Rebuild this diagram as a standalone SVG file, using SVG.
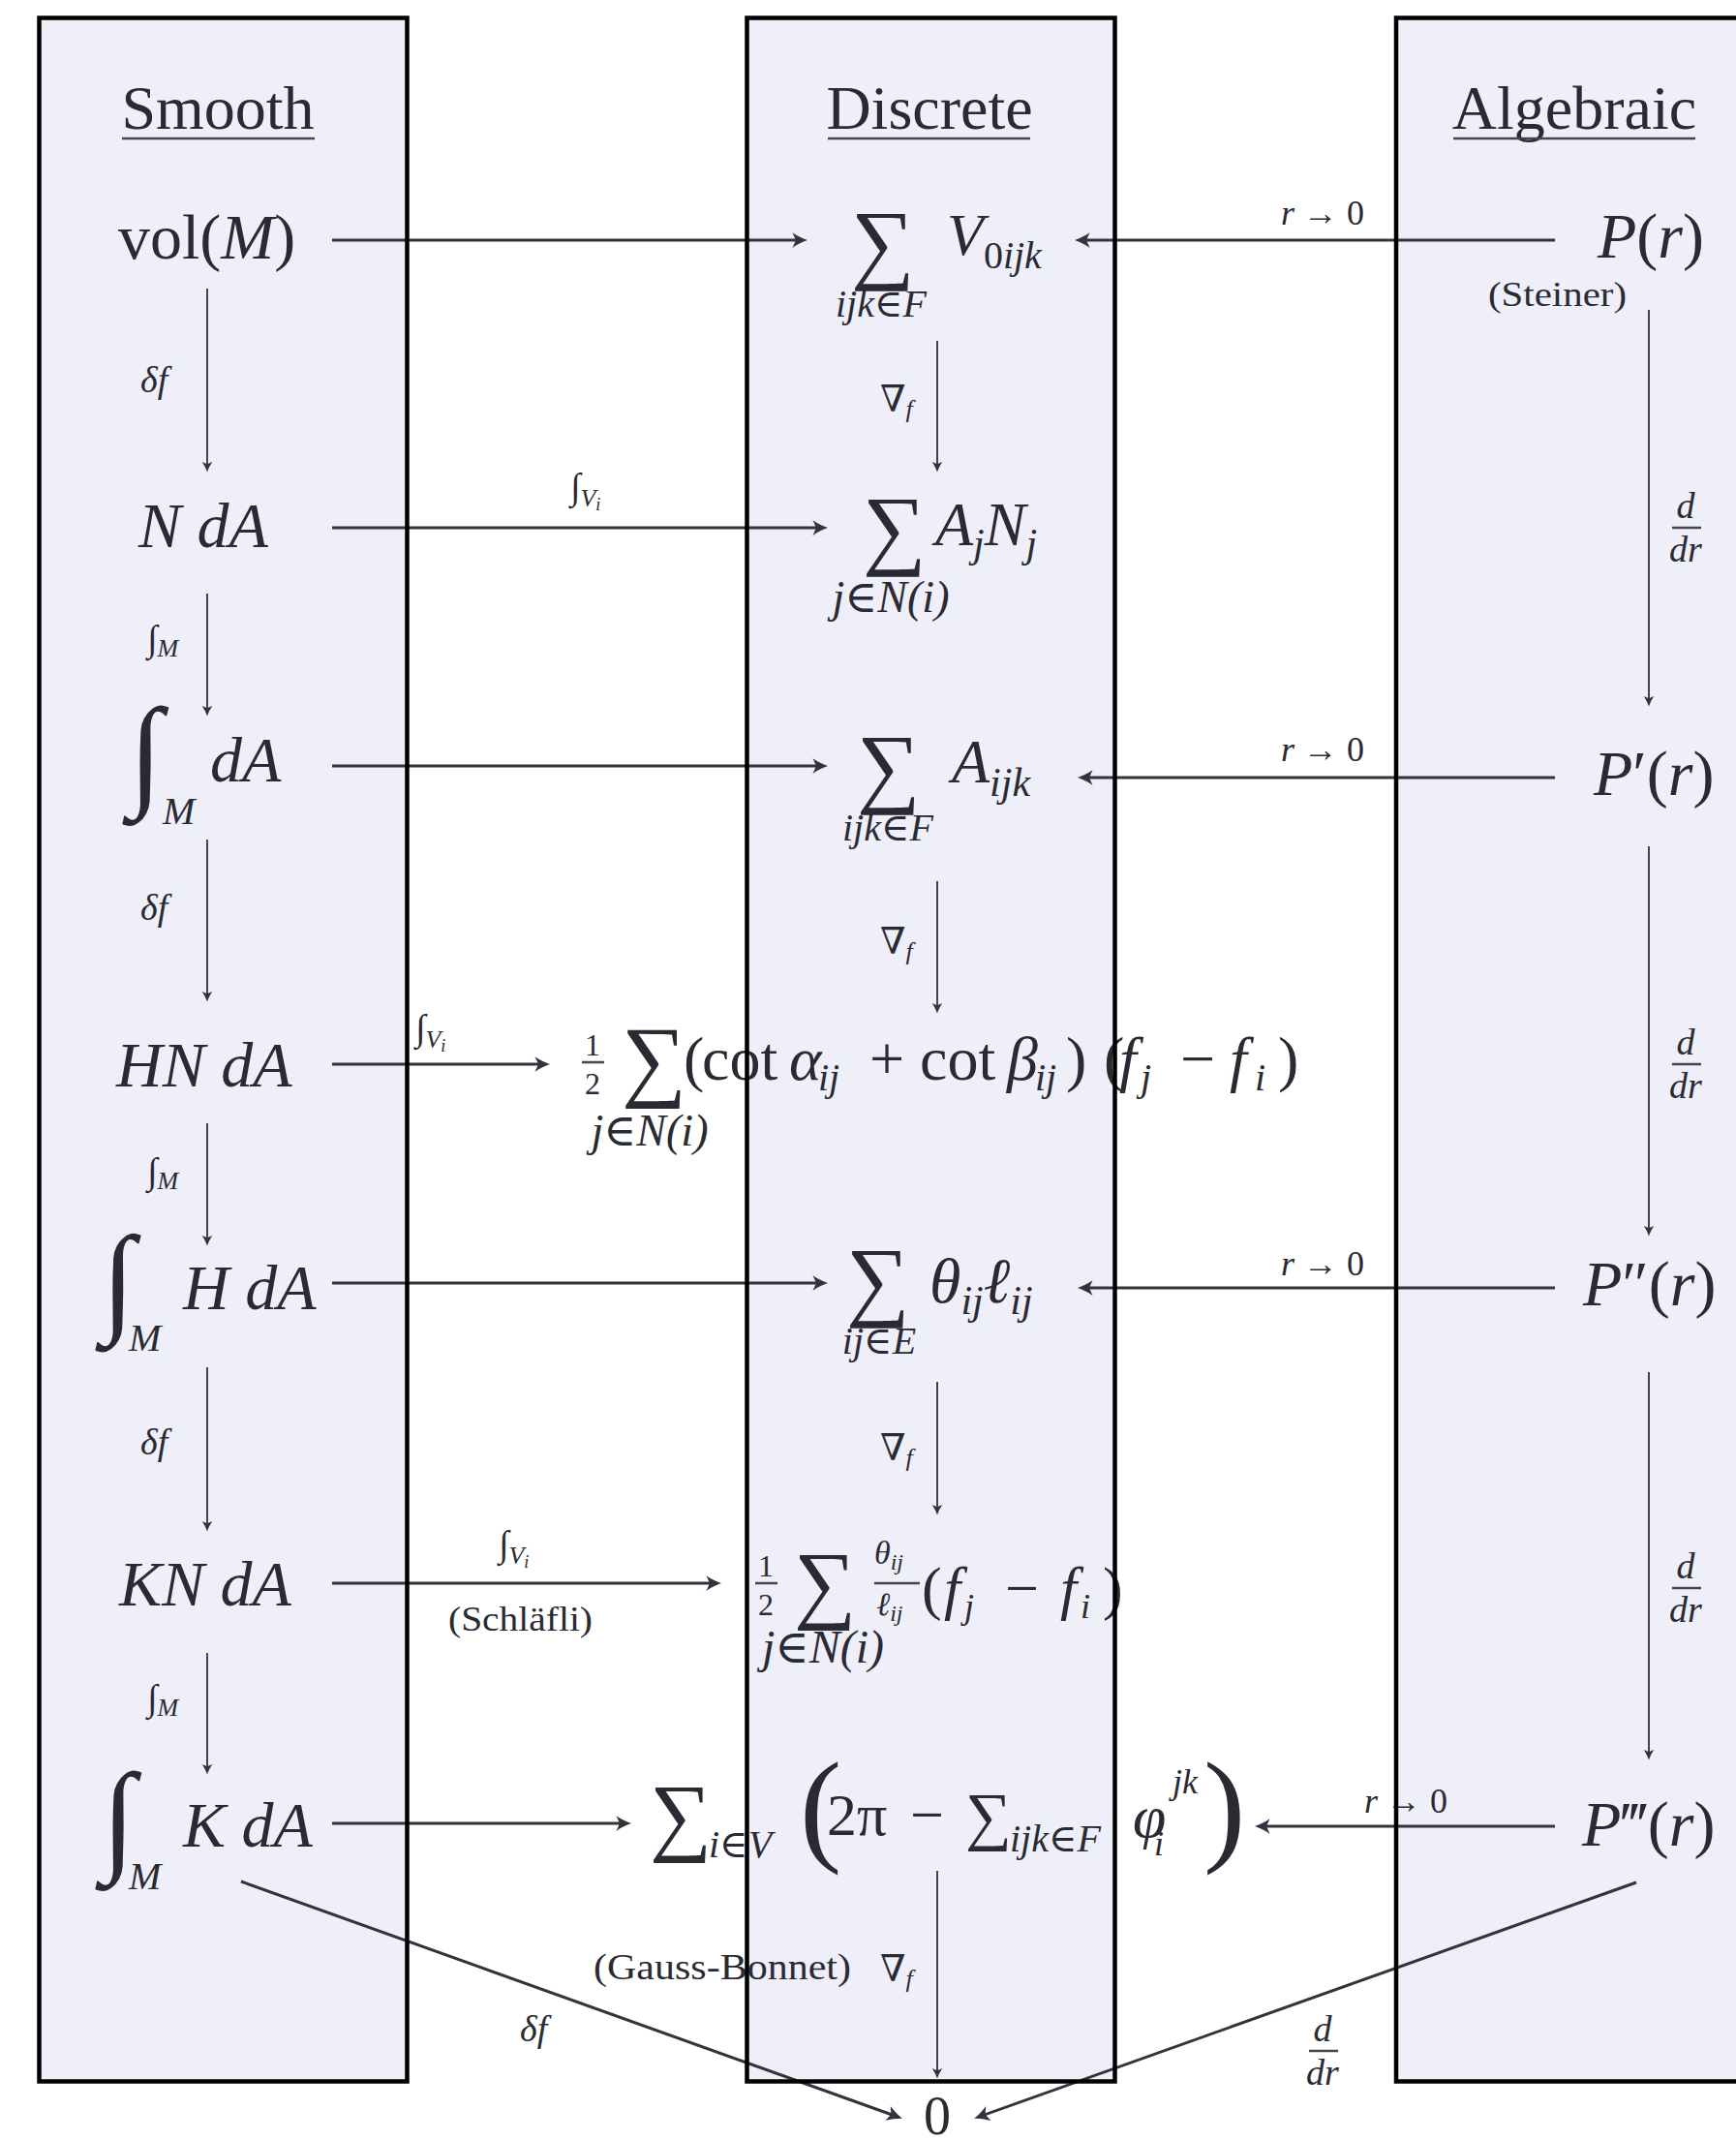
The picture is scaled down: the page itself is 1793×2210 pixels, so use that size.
<svg xmlns="http://www.w3.org/2000/svg" width="1793" height="2210" viewBox="0 0 1793 2210">
<defs>
<style>
.t{font-family:"Liberation Serif","DejaVu Serif",serif;fill:#2a2a33}
.it{font-style:italic}
.big{font-size:66px}
.mid{font-size:64px}
.sub{font-size:42px}
.lab{font-size:38px}
.sm{font-size:36px}
.colfill{fill:#efeffa;stroke:none}
.colbord{fill:none;stroke:#000;stroke-width:4.5}
.h{stroke:#33333d;stroke-width:3;fill:none}
.v{stroke:#44444f;stroke-width:2;fill:none}
.ul{stroke:#44444f;stroke-width:2.5}
</style>
<marker id="ah" viewBox="-12 -5 12 10" refX="-3" refY="0" markerWidth="7" markerHeight="6" orient="auto" markerUnits="strokeWidth">
<path d="M0,0 C-3,-1 -6,-2.5 -9,-4.5 L-7,0 L-9,4.5 C-6,2.5 -3,1 0,0 Z" fill="#33333d"/>
</marker>
</defs>
<rect width="1793" height="2210" fill="#fff"/>
<g id="columns-fill">
<rect class="colfill" x="40.5" y="18.5" width="380" height="2131"/>
<rect class="colfill" x="771.5" y="18.5" width="380" height="2131"/>
<rect class="colfill" x="1442" y="18.5" width="400" height="2131"/>
</g>
<g id="headers">
<text class="t" x="225" y="133" font-size="64" text-anchor="middle">Smooth</text>
<line class="ul" x1="126" y1="143" x2="325" y2="143"/>
<text class="t" x="960" y="133" font-size="64" text-anchor="middle">Discrete</text>
<line class="ul" x1="855" y1="143" x2="1064" y2="143"/>
<text class="t" x="1626" y="133" font-size="64" text-anchor="middle">Algebraic</text>
<line class="ul" x1="1501" y1="143" x2="1751" y2="143"/>
</g>
<g id="connectors">
<path class="h" marker-end="url(#ah)" d="M343,248 H829"/>
<path class="h" marker-end="url(#ah)" d="M1606,248 H1115"/>
<path class="h" marker-end="url(#ah)" d="M343,545 H850"/>
<path class="h" marker-end="url(#ah)" d="M343,791 H850"/>
<path class="h" marker-end="url(#ah)" d="M1606,803 H1118"/>
<path class="h" marker-end="url(#ah)" d="M343,1099 H563"/>
<path class="h" marker-end="url(#ah)" d="M343,1325 H850"/>
<path class="h" marker-end="url(#ah)" d="M1606,1330 H1118"/>
<path class="h" marker-end="url(#ah)" d="M343,1635 H740"/>
<path class="h" marker-end="url(#ah)" d="M343,1883 H647"/>
<path class="h" marker-end="url(#ah)" d="M1606,1886 H1301"/>
<path class="v" marker-end="url(#ah)" d="M214,298 V484"/>
<path class="v" marker-end="url(#ah)" d="M214,613 V736"/>
<path class="v" marker-end="url(#ah)" d="M214,867 V1031"/>
<path class="v" marker-end="url(#ah)" d="M214,1160 V1283"/>
<path class="v" marker-end="url(#ah)" d="M214,1412 V1578"/>
<path class="v" marker-end="url(#ah)" d="M214,1707 V1829"/>
<path class="v" marker-end="url(#ah)" d="M968,352 V484"/>
<path class="v" marker-end="url(#ah)" d="M968,910 V1043"/>
<path class="v" marker-end="url(#ah)" d="M968,1427 V1561"/>
<path class="v" marker-end="url(#ah)" d="M968,1932 V2143"/>
<path class="v" marker-end="url(#ah)" d="M1703,320 V726"/>
<path class="v" marker-end="url(#ah)" d="M1703,874 V1273"/>
<path class="v" marker-end="url(#ah)" d="M1703,1417 V1814"/>
<path class="h" marker-end="url(#ah)" d="M249,1943 L927,2186"/>
<path class="h" marker-end="url(#ah)" d="M1690,1944 L1011,2186"/>
</g>
<g id="edge-labels">
<text class="t it lab" x="145" y="405">δf</text>
<text class="t it lab" x="145" y="950">δf</text>
<text class="t it lab" x="145" y="1502">δf</text>
<text class="t lab" x="152" y="672">∫<tspan class="it" font-size="26" dy="6">M</tspan></text>
<text class="t lab" x="152" y="1222">∫<tspan class="it" font-size="26" dy="6">M</tspan></text>
<text class="t lab" x="152" y="1766">∫<tspan class="it" font-size="26" dy="6">M</tspan></text>
<text class="t lab" x="909" y="425">∇<tspan class="it" font-size="26" dy="6">f</tspan></text>
<text class="t lab" x="909" y="985">∇<tspan class="it" font-size="26" dy="6">f</tspan></text>
<text class="t lab" x="909" y="1508">∇<tspan class="it" font-size="26" dy="6">f</tspan></text>
<text class="t lab" x="909" y="2046">∇<tspan class="it" font-size="26" dy="6">f</tspan></text>
<text class="t" font-size="38" x="613" y="2044" textLength="266" lengthAdjust="spacingAndGlyphs">(Gauss-Bonnet)</text>
<text class="t it lab" x="1741" y="535" text-anchor="middle">d</text>
<line class="ul" x1="1727" y1="545" x2="1757" y2="545"/>
<text class="t it lab" x="1741" y="580" text-anchor="middle">dr</text>
<text class="t it lab" x="1741" y="1089" text-anchor="middle">d</text>
<line class="ul" x1="1727" y1="1099" x2="1757" y2="1099"/>
<text class="t it lab" x="1741" y="1134" text-anchor="middle">dr</text>
<text class="t it lab" x="1741" y="1630" text-anchor="middle">d</text>
<line class="ul" x1="1727" y1="1640" x2="1757" y2="1640"/>
<text class="t it lab" x="1741" y="1675" text-anchor="middle">dr</text>
<text class="t it lab" x="1366" y="2108" text-anchor="middle">d</text>
<line class="ul" x1="1352" y1="2118" x2="1382" y2="2118"/>
<text class="t it lab" x="1366" y="2153" text-anchor="middle">dr</text>
<text class="t it lab" x="537" y="2108">δf</text>
<text class="t sm" x="1323" y="232"><tspan class="it">r</tspan> → 0</text>
<text class="t sm" x="1323" y="786"><tspan class="it">r</tspan> → 0</text>
<text class="t sm" x="1323" y="1317"><tspan class="it">r</tspan> → 0</text>
<text class="t sm" x="1409" y="1872"><tspan class="it">r</tspan> → 0</text>
<text class="t" font-size="36" x="1537" y="316" textLength="143" lengthAdjust="spacingAndGlyphs">(Steiner)</text>
<text class="t lab" x="589" y="515">∫<tspan class="it" font-size="26" dy="8">V</tspan><tspan class="it" font-size="18" dy="4">i</tspan></text>
<text class="t lab" x="429" y="1074">∫<tspan class="it" font-size="26" dy="8">V</tspan><tspan class="it" font-size="18" dy="4">i</tspan></text>
<text class="t lab" x="515" y="1607">∫<tspan class="it" font-size="26" dy="8">V</tspan><tspan class="it" font-size="18" dy="4">i</tspan></text>
<text class="t" font-size="36" x="463" y="1684" textLength="149" lengthAdjust="spacingAndGlyphs">(Schläfli)</text>
</g>
<g id="node-volM"><text class="t big" x="122" y="267">vol(<tspan class="it">M</tspan>)</text></g>
<g id="node-NdA"><text class="t big it" x="143" y="565">N dA</text></g>
<g id="node-intdA"><text class="t" x="133" y="819" font-size="127">∫</text><text class="t big it" x="217" y="807">dA</text><text class="t it" font-size="40" x="168" y="851">M</text></g>
<g id="node-HNdA"><text class="t big it" x="120" y="1122">HN dA</text></g>
<g id="node-intHdA"><text class="t" x="105" y="1363" font-size="125">∫</text><text class="t big it" x="189" y="1352">H dA</text><text class="t it" font-size="40" x="133" y="1395">M</text></g>
<g id="node-KNdA"><text class="t big it" x="123" y="1658">KN dA</text></g>
<g id="node-intKdA"><text class="t" x="105" y="1919" font-size="127">∫</text><text class="t big it" x="189" y="1907">K dA</text><text class="t it" font-size="40" x="133" y="1951">M</text></g>
<g id="node-sumV"><text class="t" x="879" y="281" font-size="92">∑</text><text class="t it" font-size="62" x="978" y="263">V<tspan font-size="40" dy="14" font-style="normal">0</tspan><tspan font-size="40">ijk</tspan></text><text class="t it" font-size="40" x="910" y="327" text-anchor="middle">ijk∈F</text></g>
<g id="node-sumAN"><text class="t" x="891" y="576" font-size="92">∑</text><text class="t mid it" x="966" y="563">A<tspan class="sub" dy="12">j</tspan><tspan dy="-12">N</tspan><tspan class="sub" dy="12">j</tspan></text><text class="t it" font-size="46" x="920" y="632" text-anchor="middle">j∈N(i)</text></g>
<g id="node-sumA"><text class="t" x="885" y="822" font-size="92">∑</text><text class="t mid it" x="983" y="808">A<tspan class="sub" dy="14">ijk</tspan></text><text class="t it" font-size="40" x="917" y="868" text-anchor="middle">ijk∈F</text></g>
<g id="node-cot"><text class="t" font-size="32" x="612" y="1090" text-anchor="middle">1</text><line class="ul" x1="601" y1="1097" x2="624" y2="1097"/><text class="t" font-size="32" x="612" y="1130" text-anchor="middle">2</text><text class="t" x="642" y="1125" font-size="94">∑</text>
<text class="t" font-size="64" y="1115"><tspan x="706">(</tspan><tspan x="725">cot</tspan><tspan class="it" x="815">α</tspan><tspan class="it" font-size="40" x="845" dy="11">ij</tspan><tspan x="898" dy="-11">+</tspan><tspan x="950">cot</tspan><tspan class="it" x="1040">β</tspan><tspan class="it" font-size="40" x="1069" dy="11">ij</tspan><tspan x="1101" dy="-11">)</tspan><tspan x="1140">(</tspan><tspan class="it" x="1156">f</tspan><tspan class="it" font-size="40" x="1178" dy="11">j</tspan><tspan x="1219" dy="-11">−</tspan><tspan class="it" x="1270">f</tspan><tspan class="it" font-size="40" x="1296" dy="11">i</tspan><tspan x="1320" dy="-11">)</tspan></text>
<text class="t it" font-size="46" x="671" y="1183" text-anchor="middle">j∈N(i)</text></g>
<g id="node-sumtheta"><text class="t" x="874" y="1352" font-size="92">∑</text><text class="t it" font-size="66" x="960" y="1345">θ<tspan class="sub" dy="12">ij</tspan><tspan dy="-12">ℓ</tspan><tspan class="sub" dy="12">ij</tspan></text><text class="t it" font-size="40" x="908" y="1398" text-anchor="middle">ij∈E</text></g>
<g id="node-theta-l"><text class="t" font-size="32" x="791" y="1628" text-anchor="middle">1</text><line class="ul" x1="780" y1="1635" x2="803" y2="1635"/><text class="t" font-size="32" x="791" y="1668" text-anchor="middle">2</text><text class="t" x="820" y="1665" font-size="90">∑</text>
<text class="t it" font-size="34" x="903" y="1615">θ<tspan font-size="24" dy="6">ij</tspan></text><line class="ul" x1="903" y1="1635" x2="950" y2="1635"/><text class="t it" font-size="34" x="905" y="1668">ℓ<tspan font-size="24" dy="6">ij</tspan></text>
<text class="t" font-size="62" y="1661"><tspan x="952">(</tspan><tspan class="it" x="975">f</tspan><tspan class="it" font-size="36" x="996" dy="10">j</tspan><tspan x="1038" dy="-10">−</tspan><tspan class="it" x="1095">f</tspan><tspan class="it" font-size="36" x="1116" dy="10">i</tspan><tspan x="1139" dy="-10">)</tspan></text>
<text class="t it" font-size="48" x="850" y="1717" text-anchor="middle">j∈N(i)</text></g>
<g id="node-gauss"><text class="t" x="671" y="1905" font-size="90">∑</text><text class="t it" font-size="40" x="732" y="1918">i∈V</text><text class="t" font-size="130" x="826" y="1909">(</text><text class="t" font-size="62" x="854" y="1895">2π</text><text class="t" font-size="62" x="940" y="1895">−</text><text class="t" x="997" y="1898" font-size="67">∑</text><text class="t it" font-size="40" x="1043" y="1912">ijk∈F</text><text class="t it" font-size="62" x="1170" y="1897">φ</text><text class="t it" font-size="36" x="1211" y="1852">jk</text><text class="t it" font-size="36" x="1192" y="1916">i</text><text class="t" font-size="130" x="1243" y="1909">)</text></g>
<g id="node-P"><text class="t big" x="1650" y="266"><tspan class="it">P</tspan>(<tspan class="it">r</tspan>)</text></g>
<g id="node-P1"><text class="t big" x="1646" y="821"><tspan class="it">P</tspan>′(<tspan class="it">r</tspan>)</text></g>
<g id="node-P2"><text class="t big" x="1635" y="1348"><tspan class="it">P</tspan>″(<tspan class="it">r</tspan>)</text></g>
<g id="node-P3"><text class="t big" x="1634" y="1906"><tspan class="it">P</tspan>‴(<tspan class="it">r</tspan>)</text></g>
<g id="node-zero"><text class="t" font-size="56" x="968" y="2204" text-anchor="middle">0</text></g>
<g id="columns-border">
<rect class="colbord" x="40.5" y="18.5" width="380" height="2131"/>
<rect class="colbord" x="771.5" y="18.5" width="380" height="2131"/>
<rect class="colbord" x="1442" y="18.5" width="400" height="2131"/>
</g>
</svg>
